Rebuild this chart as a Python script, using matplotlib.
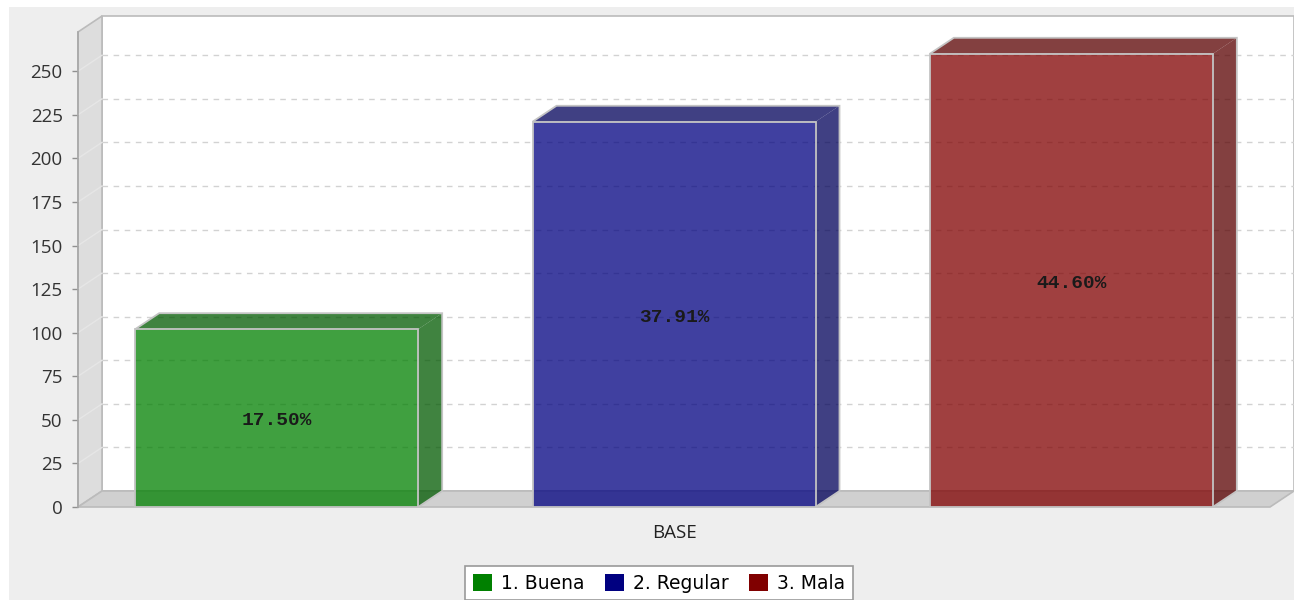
# %%
import matplotlib
matplotlib.use('Agg')
import matplotlib.pyplot as plt
from matplotlib.patches import Rectangle, Polygon, Patch
import numpy as np

# %% ----------- Data -------------
series = ['1. Buena', '2. Regular', '3. Mala']
values = [102, 221, 260]
category = 'BASE'
yticks = [0, 25, 50, 75, 100, 125, 150, 175, 200, 225, 250]

colors = ['#008000', '#000080', '#800000']
dark_colors = ['#005900', '#000059', '#590000']

# %% ----------- Figure -------------
W, H, DPI = 1294, 600, 100
fig = plt.figure(figsize=(W / DPI, H / DPI), dpi=DPI, facecolor='white')
fig.patches.append(Rectangle((9 / W, 0), 1, 1 - 7 / H, transform=fig.transFigure,
                             fc='#EEEEEE', ec='none', zorder=-10))

# front plane of the plot in pixels: x 78..1270, y 32..507
ax = fig.add_axes([78 / W, (H - 507) / H, 1192 / W, 475 / H])
ax.patch.set_visible(False)
ymax = 272.5
ax.set_xlim(-0.5, 2.5)
ax.set_ylim(0, ymax)

# 3d depth (24 px right, 16 px up) in data units
dx = 24 / (1192 / 3.0)
dy = 16 / (475 / ymax)
x0, x1 = -0.5, 2.5

# back wall
ax.add_patch(Rectangle((x0 + dx, dy), x1 - x0, ymax, fc='white', ec='#BBBBBB',
                       lw=1.2, clip_on=False, zorder=0))
# left wall
ax.add_patch(Polygon([(x0, 0), (x0, ymax), (x0 + dx, ymax + dy), (x0 + dx, dy)],
                     closed=True, fc='#DDDDDD', ec='#BBBBBB', lw=1.2, clip_on=False, zorder=0.5))
# floor
ax.add_patch(Polygon([(x0, 0), (x1, 0), (x1 + dx, dy), (x0 + dx, dy)],
                     closed=True, fc='#D0D0D0', ec='#BBBBBB', lw=1.2, clip_on=False, zorder=0.5))

# gridlines on back wall and faint diagonals on the left wall
for t in yticks[1:]:
    ax.plot([x0 + dx, x1 + dx], [t + dy, t + dy], color='#D2D2D2', lw=1,
            ls=(0, (4, 4)), clip_on=False, zorder=0.8)
    ax.plot([x0, x0 + dx], [t, t + dy], color='#E6E6E6', lw=1, clip_on=False, zorder=0.8)

# %% ----------- Bars -------------
bw = 283 / (1192 / 3.0)
total = sum(values)
for i, (v, c, dc) in enumerate(zip(values, colors, dark_colors)):
    left, right = i - bw / 2, i + bw / 2
    ax.bar(i, v, width=bw, color=c, alpha=0.75, edgecolor='none', zorder=2)
    ax.add_patch(Polygon([(left, v), (left + dx, v + dy), (right + dx, v + dy), (right, v)],
                         closed=True, fc=dc, alpha=0.75, ec='none', zorder=2))
    ax.add_patch(Polygon([(right, 0), (right + dx, dy), (right + dx, v + dy), (right, v)],
                         closed=True, fc=dc, alpha=0.75, ec='none', zorder=2))
    # outlines
    ax.add_patch(Rectangle((left, 0), bw, v, fc='none', ec='#C4C4C4', lw=1.3, zorder=3))
    ax.add_patch(Polygon([(left, v), (left + dx, v + dy), (right + dx, v + dy),
                          (right + dx, dy), (right, 0)],
                         closed=False, fc='none', ec='#C4C4C4', lw=1.3, zorder=3))
    ax.text(i, v / 2 - 1.5, f'{v / total * 100:.2f}%', ha='center', va='center',
            family='Liberation Mono', weight='bold', fontsize=14, color='#1A1A1A', zorder=5)

# %% ----------- Axes -------------
for s in ['top', 'right', 'bottom']:
    ax.spines[s].set_visible(False)
ax.spines['left'].set_color('#A8A8A8')
ax.spines['left'].set_linewidth(1.2)
ax.set_yticks(yticks)
ax.tick_params(axis='y', length=4, width=1, color='#909090', pad=7,
               labelsize=13.5, labelcolor='#333333')
ax.set_xticks([1], [category])
ax.tick_params(axis='x', length=0, pad=12, labelsize=13.5, labelcolor='#222222')
for lab in ax.get_xticklabels() + ax.get_yticklabels():
    lab.set_family('Open Sans')

# %% ----------- Legend -------------
handles = [Patch(fc=c, ec='none') for c in colors]
leg = fig.legend(handles, series, loc='upper center', bbox_to_anchor=(659 / W, 1 - 566 / H),
                 ncol=3, frameon=True, fancybox=False, edgecolor='#999999', framealpha=1,
                 prop={'family': 'DejaVu Sans', 'size': 13.5},
                 handlelength=1.04, handleheight=1.04, handletextpad=0.48,
                 columnspacing=1.07, borderpad=0.4, borderaxespad=0)
leg.get_frame().set_linewidth(1.2)

fig.savefig('out.png', dpi=DPI)
